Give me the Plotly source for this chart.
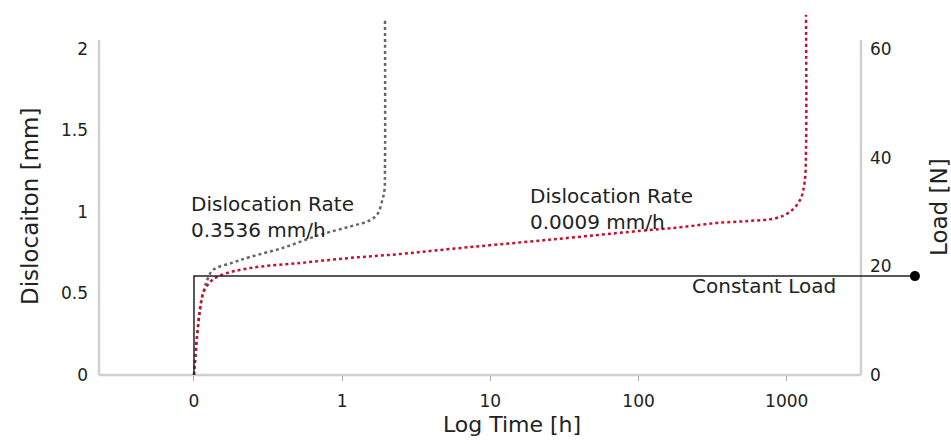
import plotly.graph_objects as go

# ---- data (x values are positions on the log-time axis: 0->0 h, 1->1 h, 2->10 h, 3->100 h, 4->1000 h)
tick_pos = [0, 1, 2, 3, 4]
tick_text = ["0", "1", "10", "100", "1000"]

fast_x = [0, 0.02, 0.04, 0.061, 0.088, 0.128, 0.263, 0.378, 0.6, 0.85, 1.05, 1.19, 1.24, 1.27, 1.285, 1.289, 1.289]
fast_y = [0, 0.23, 0.40, 0.50, 0.58, 0.644, 0.69, 0.724, 0.78, 0.86, 0.91, 0.95, 0.99, 1.07, 1.13, 1.30, 2.18]

slow_x = [0, 0.02, 0.04, 0.061, 0.108, 0.175, 0.378, 0.715, 1.053, 1.39, 1.727, 2.4, 3.077, 3.30, 3.53, 3.75, 3.93, 4.02, 4.09, 4.12, 4.13, 4.13]
slow_y = [0, 0.23, 0.40, 0.50, 0.57, 0.61, 0.656, 0.687, 0.718, 0.742, 0.773, 0.83, 0.89, 0.908, 0.933, 0.945, 0.963, 1.0, 1.074, 1.178, 1.38, 2.21]

load_x = [0, 0, 4.865]
load_y = [0, 18.2, 18.2]

left_ticks = [0, 0.5, 1, 1.5, 2]
left_tick_text = ["0", "0.5", "1", "1.5", "2"]
right_ticks = [0, 20, 40, 60]

FONT = "DejaVu Sans"
TXT = "#222222"
AXIS_GREY = "#d0d0d0"

W, H = 951, 444
ML, MR, MT, MB = 99, 26, 10, 69

X_RANGE = [-0.641, 4.933]
Y1_MAX = 2.239
Y2_MAX = Y1_MAX * 30
AXIS_TOP = 0.918      # visible axis line top (paper fraction)
RIGHT_POS = 0.9225    # right axis position (paper fraction)

fig = go.Figure()

fig.add_trace(go.Scatter(x=fast_x, y=fast_y, mode="lines",
                         line=dict(color="#666666", width=2.5, dash="dot"),
                         line_shape="spline", showlegend=False, hoverinfo="skip"))
fig.add_trace(go.Scatter(x=slow_x, y=slow_y, mode="lines",
                         line=dict(color="#c8102e", width=2.5, dash="dot"),
                         line_shape="spline", showlegend=False, hoverinfo="skip"))
fig.add_trace(go.Scatter(x=load_x, y=load_y, mode="lines+markers", yaxis="y2",
                         line=dict(color="#222222", width=1.5),
                         marker=dict(size=[0, 0, 10], color="#000000", opacity=1,
                                     line=dict(width=0)),
                         showlegend=False, hoverinfo="skip"))

fig.update_layout(
    width=W, height=H,
    margin=dict(l=ML, r=MR, t=MT, b=MB),
    paper_bgcolor="white", plot_bgcolor="white",
    font=dict(family=FONT, size=18, color=TXT),
    xaxis=dict(range=X_RANGE, tickvals=tick_pos, ticktext=tick_text,
               showgrid=False, zeroline=False, showline=False,
               ticks="outside", ticklen=5, tickwidth=1, tickcolor="#aaaaaa",
               ticklabelstandoff=6,
               tickfont=dict(size=17, family=FONT, color=TXT),
               title=dict(text="Log Time [h]", font=dict(size=22, family=FONT, color=TXT), standoff=6)),
    yaxis=dict(range=[0, Y1_MAX], tickvals=left_ticks, ticktext=left_tick_text,
               showgrid=False, zeroline=False, showline=False, ticks="",
               ticklabelstandoff=10,
               tickfont=dict(size=17, family=FONT, color=TXT)),
    yaxis2=dict(range=[0, Y2_MAX], tickvals=right_ticks, overlaying="y", side="right",
                anchor="free", position=RIGHT_POS,
                showgrid=False, zeroline=False, showline=False, ticks="",
                ticklabelstandoff=8,
                tickfont=dict(size=17, family=FONT, color=TXT)),
    shapes=[
        dict(type="line", xref="paper", yref="paper", x0=0, x1=RIGHT_POS, y0=0, y1=0,
             line=dict(color=AXIS_GREY, width=2.5), layer="below"),
        dict(type="line", xref="paper", yref="paper", x0=0, x1=0, y0=0, y1=AXIS_TOP,
             line=dict(color=AXIS_GREY, width=2.5), layer="below"),
        dict(type="line", xref="paper", yref="paper", x0=RIGHT_POS, x1=RIGHT_POS, y0=0, y1=AXIS_TOP,
             line=dict(color=AXIS_GREY, width=2.5), layer="below"),
    ],
    annotations=[
        dict(text="Dislocation Rate<br>0.3536 mm/h", x=-0.034, y=0.97, xref="x", yref="y",
             xanchor="left", yanchor="middle", align="left", showarrow=False,
             font=dict(size=20, family=FONT, color=TXT)),
        dict(text="Dislocation Rate<br>0.0009 mm/h", x=2.254, y=1.018, xref="x", yref="y",
             xanchor="left", yanchor="middle", align="left", showarrow=False,
             font=dict(size=20, family=FONT, color=TXT)),
        dict(text="Constant Load", x=4.345, y=0.546, xref="x", yref="y",
             xanchor="right", yanchor="middle", align="right", showarrow=False,
             font=dict(size=20, family=FONT, color=TXT)),
        dict(text="Dislocaiton [mm]", x=30, y=207, xref="paper", yref="paper",
             showarrow=False, textangle=-90, xanchor="center", yanchor="middle",
             font=dict(size=23, family=FONT, color=TXT)),
        dict(text="Load [N]", x=939, y=207, xref="paper", yref="paper",
             showarrow=False, textangle=-90, xanchor="center", yanchor="middle",
             font=dict(size=23, family=FONT, color=TXT)),
    ],
)

# convert page-pixel positions of the two side titles into paper fractions
plot_w = W - ML - MR
plot_h = H - MT - MB
for ann in fig.layout.annotations[3:]:
    ann.x = (ann.x - ML) / plot_w
    ann.y = (H - MB - ann.y) / plot_h

# remove the default page margin so the figure sits at the window origin
POST = "document.body.style.margin='0';document.body.style.overflow='hidden';"

fig.write_html("out.html", post_script=POST, config={"displayModeBar": False})
